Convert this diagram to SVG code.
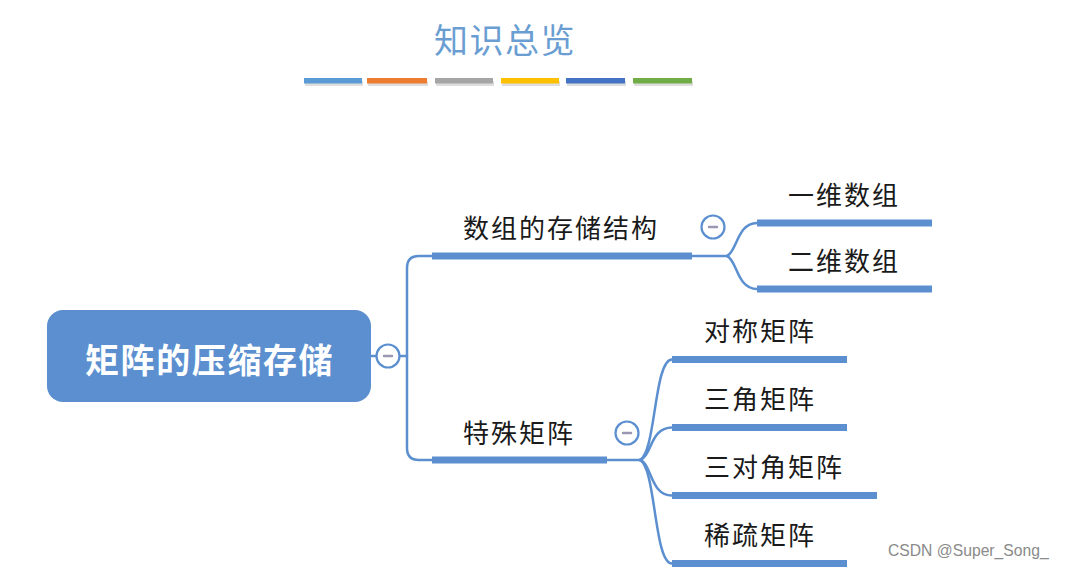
<svg xmlns="http://www.w3.org/2000/svg" width="1065" height="571" viewBox="0 0 1065 571">
<style>
.lbl{font-family:"Noto Sans CJK SC","Noto Sans",sans-serif;font-size:26px;fill:#1a1a1a;letter-spacing:2px}
.bar{fill:#5b8fd0}
.ln{fill:none;stroke:#5b8fd0;stroke-width:2.5;stroke-linecap:round}
.tog circle{fill:#fff;stroke:#5b8fd0;stroke-width:2.2}
.tog line{stroke:#9a97b3;stroke-width:2.5;stroke-linecap:round}
</style>
<rect width="1065" height="571" fill="#fff"/>
<g id="title">
<text x="434" y="53" font-family="Noto Sans CJK SC,sans-serif" font-size="34" letter-spacing="1.5" fill="#6a9ed2">知识总览</text>
<g id="colorbars">
<g fill="#d6d6d6" opacity="0.8">
<rect x="305" y="81" width="58" height="5"/><rect x="368" y="81" width="60" height="5"/><rect x="436" y="81" width="58" height="5"/><rect x="502" y="81" width="58" height="5"/><rect x="567" y="81" width="59" height="5"/><rect x="634" y="81" width="59" height="5"/>
</g>
<rect x="304" y="78" width="58" height="5.5" fill="#5b9bd5"/>
<rect x="367" y="78" width="60" height="5.5" fill="#ed7d31"/>
<rect x="435" y="78" width="58" height="5.5" fill="#a5a5a5"/>
<rect x="501" y="78" width="58" height="5.5" fill="#ffc000"/>
<rect x="566" y="78" width="59" height="5.5" fill="#4472c4"/>
<rect x="633" y="78" width="59" height="5.5" fill="#70ad47"/>
</g>
</g>
<g id="connectors">
<path class="ln" d="M371 356 H377 M399 356 H407"/>
<path class="ln" d="M432 256 H419 Q407 256 407 268 V448 Q407 460 419 460 H432"/>
<path class="ln" d="M692 256 H727"/>
<path class="ln" d="M727 256 C737 252 737 223 757 223"/>
<path class="ln" d="M727 256 C737 260 737 289 757 289"/>
<path class="ln" d="M607 460 H640"/>
<path class="ln" d="M640 460 C656 452 654 359.5 672 359.5"/>
<path class="ln" d="M640 460 C652 456 650 427.5 672 427.5"/>
<path class="ln" d="M640 460 C652 464 650 495.5 672 495.5"/>
<path class="ln" d="M640 460 C656 468 654 563.5 672 563.5"/>
</g>
<g id="root">
<rect x="47" y="310" width="324" height="92" rx="16" fill="#5b8fd0"/>
<text x="85" y="373" font-family="Noto Sans CJK SC,sans-serif" font-size="34" font-weight="bold" letter-spacing="1.6" fill="#fff">矩阵的压缩存储</text>
<g class="tog"><circle cx="388" cy="356" r="11.5"/><line x1="384" y1="356" x2="392" y2="356"/></g>
</g>
<g id="n-array">
<text class="lbl" x="463" y="238">数组的存储结构</text>
<rect class="bar" x="432" y="252.5" width="260" height="7"/>
<g class="tog"><circle cx="713" cy="227" r="11.5"/><line x1="709" y1="227" x2="717" y2="227"/></g>
</g>
<g id="n-1d">
<text class="lbl" x="788" y="205">一维数组</text>
<rect class="bar" x="757" y="219.5" width="175" height="7"/>
</g>
<g id="n-2d">
<text class="lbl" x="788" y="271">二维数组</text>
<rect class="bar" x="757" y="285.5" width="175" height="7"/>
</g>
<g id="n-special">
<text class="lbl" x="463" y="443">特殊矩阵</text>
<rect class="bar" x="432" y="456.5" width="175" height="7"/>
<g class="tog"><circle cx="627" cy="433" r="11.5"/><line x1="623" y1="433" x2="631" y2="433"/></g>
</g>
<g id="n-sym">
<text class="lbl" x="704" y="341">对称矩阵</text>
<rect class="bar" x="672" y="356" width="175" height="7"/>
</g>
<g id="n-tri">
<text class="lbl" x="704" y="409">三角矩阵</text>
<rect class="bar" x="672" y="424" width="175" height="7"/>
</g>
<g id="n-tridiag">
<text class="lbl" x="704" y="477">三对角矩阵</text>
<rect class="bar" x="672" y="492" width="205" height="7"/>
</g>
<g id="n-sparse">
<text class="lbl" x="704" y="545">稀疏矩阵</text>
<rect class="bar" x="672" y="560" width="175" height="7"/>
</g>
<text x="888" y="556" font-family="Liberation Sans,Arial,sans-serif" font-size="15.7" fill="#8a8a8a">CSDN @Super_Song_</text>
</svg>
